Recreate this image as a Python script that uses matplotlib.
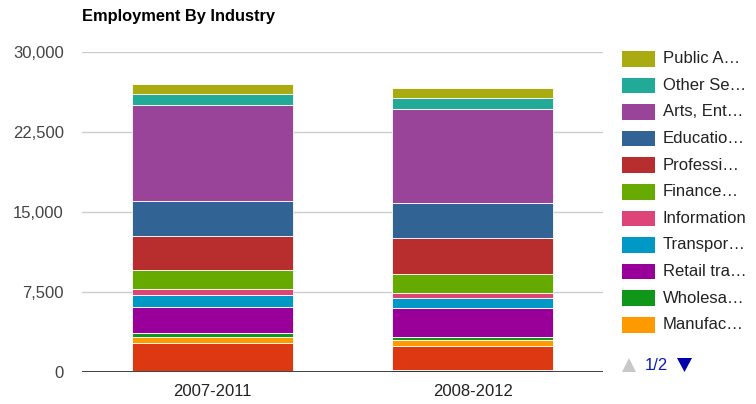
import matplotlib
matplotlib.use("Agg")
import matplotlib.pyplot as plt
from matplotlib.patches import Rectangle, Polygon
import numpy as np

plt.rcParams['font.family'] = ['Liberation Sans', 'DejaVu Sans']

periods = ['2007-2011', '2008-2012']

industries = ['Agriculture', 'Construction', 'Manufacturing', 'Wholesale trade',
              'Retail trade', 'Transportation', 'Information', 'Finance',
              'Professional', 'Educational', 'Arts, Entertainment',
              'Other Services', 'Public Administration']
legend_labels = ['Agricul\u2026', 'Construc\u2026', 'Manufac\u2026', 'Wholesa\u2026',
                 'Retail tra\u2026', 'Transpor\u2026', 'Information', 'Finance\u2026',
                 'Professi\u2026', 'Educatio\u2026', 'Arts, Ent\u2026',
                 'Other Se\u2026', 'Public A\u2026']
colors = ['#3366cc', '#dc3912', '#ff9900', '#109618', '#990099', '#0099c6',
          '#dd4477', '#66aa00', '#b82e2e', '#316395', '#994499', '#22aa99',
          '#aaaa11']

emp_0711 = [60, 2585, 619, 319, 2495, 1098, 534, 1811, 3217, 3283, 8977, 1032, 938]
emp_0812 = [120, 2272, 563, 309, 2664, 938, 525, 1755, 3348, 3283, 8846, 1039, 902]

y_ticks = [0, 7500, 15000, 22500, 30000]
y_tick_labels = ['0', '7,500', '15,000', '22,500', '30,000']

W, H = 756, 404
fig = plt.figure(figsize=(W / 100, H / 100), dpi=100)
ax = fig.add_axes([82 / W, 1 - 371.5 / H, 521 / W, (371.5 - 51.7) / H])

x = np.arange(len(periods))
data = np.array([emp_0711, emp_0812]).T
bottom = np.zeros(len(periods))
for vals, c in zip(data, colors):
    ax.bar(x, vals, width=0.617, bottom=bottom, color=c,
           edgecolor='white', linewidth=0.6, zorder=2)
    bottom += vals

ax.set_xlim(-0.5, 1.5)
ax.set_ylim(0, 30000)
ax.set_yticks(y_ticks)
ax.set_yticklabels(y_tick_labels)
ax.set_xticks(x)
ax.set_xticklabels(periods)
ax.tick_params(axis='y', length=0, pad=13, labelsize=12, labelcolor='#444444')
ax.tick_params(axis='x', length=0, pad=9, labelsize=12, labelcolor='#222222')
ax.grid(axis='y', color='#cccccc', linewidth=1)
ax.set_axisbelow(True)
for s in ax.spines.values():
    s.set_visible(False)
ax.axhline(0, color='#333333', linewidth=1.3, zorder=5)

fig.text(82 / W, 1 - 16 / H, 'Employment By Industry', fontsize=11.8,
         fontweight='bold', color='#000000', ha='left', va='center')

# legend, page 1 of 2 (top series first)
for i, k in enumerate(range(len(industries) - 1, 1, -1)):
    yc = 58.8 + i * 26.6
    fig.add_artist(Rectangle((621.7 / W, 1 - (yc + 7.8) / H), 33 / W, 15.6 / H,
                             transform=fig.transFigure, facecolor=colors[k],
                             edgecolor='none'))
    fig.text(663 / W, 1 - yc / H, legend_labels[k], fontsize=12,
             color='#222222', ha='left', va='center')

# pager
fig.add_artist(Polygon([(622 / W, 1 - 372 / H), (636 / W, 1 - 372 / H),
                        (629 / W, 1 - 358 / H)], closed=True,
                       transform=fig.transFigure, facecolor='#c8c8c8',
                       edgecolor='none'))
fig.text(645 / W, 1 - 365 / H, '1/2', fontsize=12, color='#0b1bbd',
         ha='left', va='center')
fig.add_artist(Polygon([(677 / W, 1 - 358 / H), (692 / W, 1 - 358 / H),
                        (684.5 / W, 1 - 372 / H)], closed=True,
                       transform=fig.transFigure, facecolor='#0000aa',
                       edgecolor='none'))

fig.savefig('out.png', dpi=100)
